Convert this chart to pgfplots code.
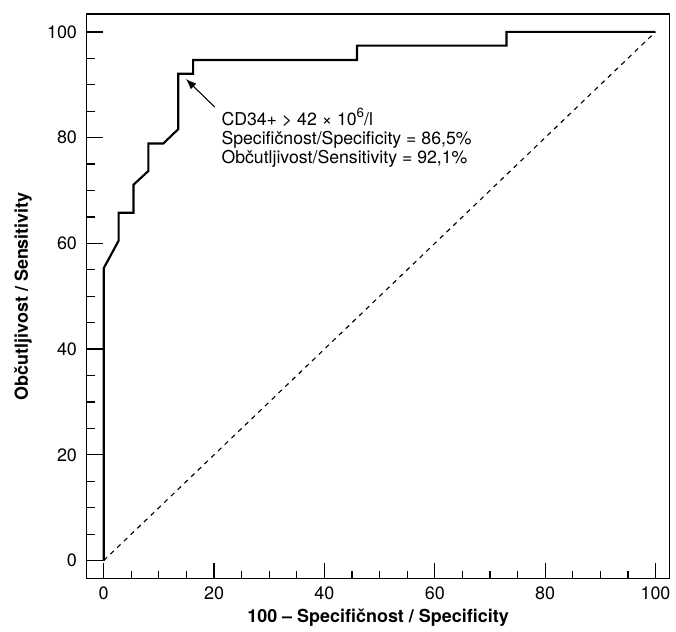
\documentclass[border=0pt]{standalone}
\usepackage{fontspec}
\setmainfont{TeX Gyre Heros}
\usepackage{pgfplots}
\pgfplotsset{compat=1.18}
\usetikzlibrary{arrows.meta}
\begin{document}
\fontsize{12.5}{15}\selectfont
\begin{tikzpicture}
\begin{axis}[
    scale only axis,
    width=438pt, height=424.5pt,
    xmin=-3.07, xmax=102.5,
    ymin=-3.4, ymax=103.4,
    xtick={0,20,...,100}, ytick={0,20,...,100},
    minor x tick num=3, minor y tick num=3,
    xtick pos=lower, ytick pos=left,
    tick align=inside,
    major tick length=12pt, minor tick length=6pt,
    every tick/.style={black, line width=0.9pt},
    axis line style={line width=1pt},
    /pgf/number format/assume math mode=true,
    tick label style={font=\fontsize{13.5}{15}\selectfont},
    xticklabel style={yshift=-2pt},
    yticklabel style={xshift=-3pt},
    xlabel={\textbf{100 – Specifičnost / Specificity}},
    ylabel={\textbf{Občutljivost / Sensitivity}},
    label style={font=\fontsize{13.5}{15}\selectfont},
    xlabel style={yshift=2pt},
    ylabel style={yshift=3pt},
]
% diagonal reference line
\addplot[black, line width=0.85pt, dash pattern=on 3.5pt off 3.5pt] coordinates {(0,0) (100,100)};
% ROC curve
\addplot[black, line width=1.6pt, line join=miter] coordinates {
    (0,0) (0,55.3) (2.7,60.5) (2.7,65.8) (5.4,65.8) (5.4,71.1)
    (8.1,73.7) (8.1,78.9) (10.8,78.9) (13.5,81.6) (13.5,92.1)
    (16.2,92.1) (16.2,94.7) (45.9,94.7) (45.9,97.4) (73.0,97.4)
    (73.0,100) (100,100)
};
\draw[-{Latex[length=8pt,width=6pt]}, line width=0.8pt] (axis cs:20.1,85.8) -- (axis cs:14.9,91.1);
\node[anchor=north west, align=left, inner sep=0pt,
      font=\fontsize{13.3}{14.3}\selectfont] at (axis cs:21.3,85.6)
    {CD34+ > 42 × 10\raisebox{0.45em}{\fontsize{10}{10}\selectfont 6}/l\\
     Specifičnost/Specificity = 86,5\%\\
     Občutljivost/Sensitivity = 92,1\%};
\end{axis}
% page margins as in the reference
\path (current axis.north west) ++(-65.25pt,10.5pt);
\path (current axis.south east) ++(3.75pt,-36pt);
\end{tikzpicture}
\end{document}
